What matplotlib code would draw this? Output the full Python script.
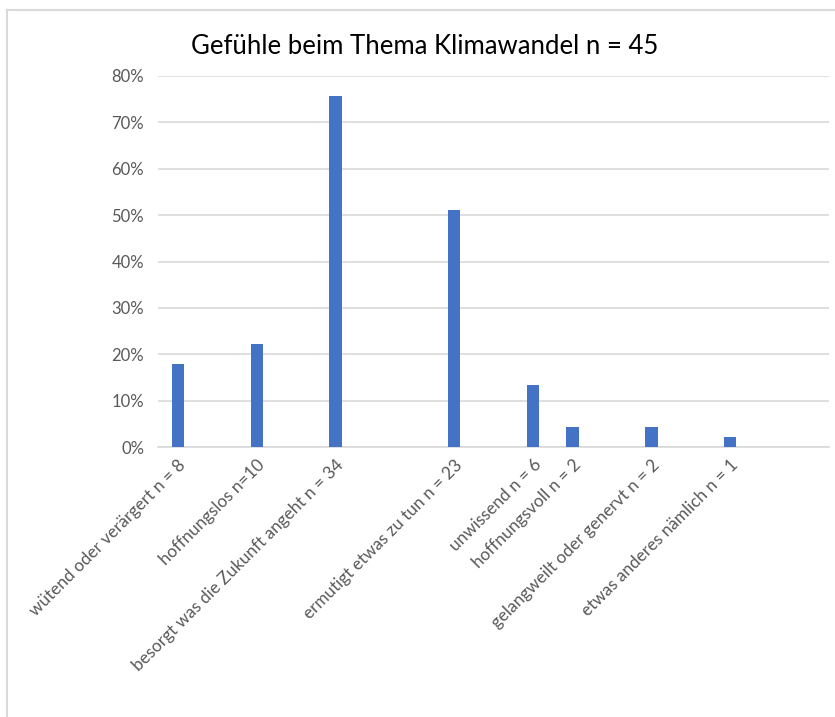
import matplotlib
matplotlib.use("Agg")
import matplotlib.pyplot as plt
from matplotlib.lines import Line2D
from matplotlib.ticker import PercentFormatter

# Data
categories = [
    "wütend oder verärgert n = 8",
    "hoffnungslos n=10",
    "besorgt was die Zukunft angeht n = 34",
    "ermutigt etwas zu tun n = 23",
    "unwissend n = 6",
    "hoffnungsvoll n = 2",
    "gelangweilt oder genervt n = 2",
    "etwas anderes nämlich n = 1",
]
slots = [0, 2, 4, 7, 9, 10, 12, 14]   # category slot on the axis (17 slots total)
values = [0.178, 0.222, 0.756, 0.511, 0.133, 0.044, 0.044, 0.022]
yticks = [0, 0.1, 0.2, 0.3, 0.4, 0.5, 0.6, 0.7, 0.8]
title = "Gefühle beim Thema Klimawandel n = 45"

plt.rcParams['font.family'] = ['Lato', 'DejaVu Sans']

W, H = 835, 717
fig = plt.figure(figsize=(W / 100, H / 100), dpi=100)
ax = fig.add_axes([158 / W, 1 - 447 / H, (829 - 158) / W, (447 - 76) / H])

ax.bar(slots, values, width=0.31, color="#4472C4", zorder=3)
ax.set_xlim(-0.5, 16.5)
ax.set_ylim(0, 0.8)
ax.set_yticks(yticks)
ax.yaxis.set_major_formatter(PercentFormatter(1.0, decimals=0))
ax.grid(axis='y', color="#d9d9d9", lw=1.2, zorder=0)
ax.set_axisbelow(True)
for s in ['top', 'right', 'left']:
    ax.spines[s].set_visible(False)
ax.spines['bottom'].set_color("#d9d9d9")
ax.spines['bottom'].set_linewidth(1.2)

ax.set_xticks(slots)
ax.set_xticklabels(categories, rotation=45, ha='right', rotation_mode='anchor',
                   fontsize=12.3, color="#595959")
ax.tick_params(axis='x', length=0, pad=7)
ax.tick_params(axis='y', length=0, pad=10, labelsize=12, labelcolor="#595959")

fig.text(425 / W, 1 - 46 / H, title, ha='center', va='center', fontsize=18.5, color="#000000")

# outer border lines (chart area frame)
fig.add_artist(Line2D([7 / W, 7 / W], [0, 1 - 10 / H], transform=fig.transFigure,
                      color="#d9d9d9", lw=1.5))
fig.add_artist(Line2D([7 / W, 1], [1 - 10 / H, 1 - 10 / H], transform=fig.transFigure,
                      color="#d9d9d9", lw=1.5))

fig.savefig("out.png", dpi=100)
